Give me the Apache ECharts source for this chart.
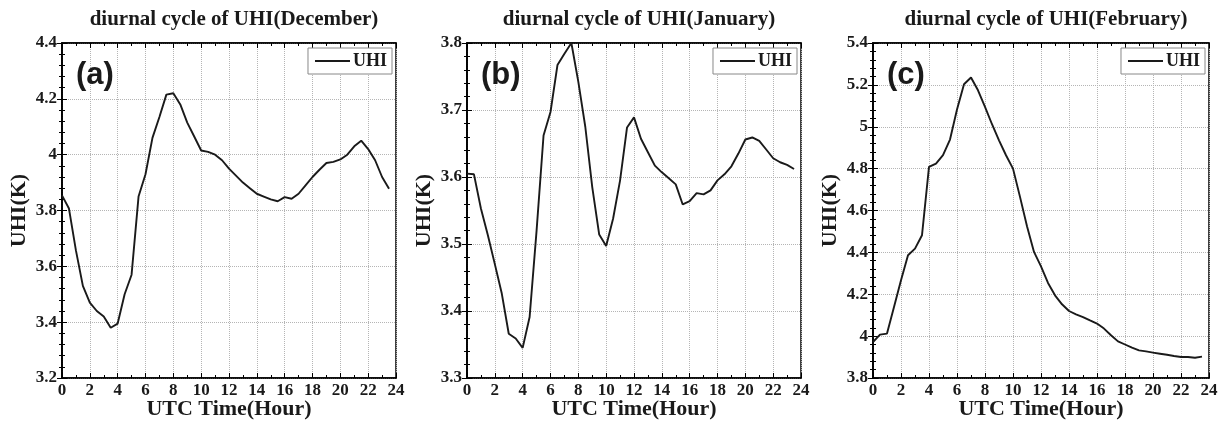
<!DOCTYPE html>
<html><head><meta charset="utf-8">
<script src="https://cdn.jsdelivr.net/npm/echarts@6/dist/echarts.min.js"></script>
<style>html,body{margin:0;padding:0;background:#fff}#c{width:1219px;height:425px}</style>
</head><body><div id="c"></div>
<script>
const hours = [0,0.5,1,1.5,2,2.5,3,3.5,4,4.5,5,5.5,6,6.5,7,7.5,8,8.5,9,9.5,10,10.5,11,11.5,12,12.5,13,13.5,14,14.5,15,15.5,16,16.5,17,17.5,18,18.5,19,19.5,20,20.5,21,21.5,22,22.5,23,23.5];
const uhiDec = [3.854,3.807,3.657,3.53,3.47,3.44,3.42,3.38,3.395,3.50,3.57,3.85,3.93,4.06,4.135,4.215,4.22,4.18,4.115,4.065,4.015,4.01,4.0,3.98,3.95,3.925,3.90,3.88,3.86,3.85,3.84,3.833,3.848,3.842,3.86,3.89,3.92,3.946,3.97,3.974,3.983,4.0,4.03,4.05,4.02,3.98,3.92,3.878];
const uhiJan = [3.605,3.604,3.553,3.513,3.47,3.426,3.366,3.359,3.345,3.391,3.52,3.662,3.697,3.767,3.784,3.80,3.742,3.675,3.585,3.514,3.497,3.538,3.595,3.674,3.689,3.657,3.637,3.617,3.607,3.598,3.589,3.559,3.564,3.576,3.574,3.58,3.595,3.604,3.616,3.635,3.656,3.659,3.654,3.641,3.628,3.622,3.618,3.612];
const uhiFeb = [3.972,4.007,4.012,4.139,4.267,4.386,4.418,4.482,4.808,4.824,4.864,4.939,5.082,5.203,5.235,5.174,5.095,5.012,4.935,4.864,4.8,4.665,4.525,4.402,4.333,4.254,4.195,4.152,4.12,4.104,4.091,4.075,4.06,4.036,4.004,3.975,3.96,3.945,3.932,3.927,3.921,3.916,3.911,3.905,3.9,3.9,3.897,3.902];
const titles = ['diurnal cycle of UHI(December)','diurnal cycle of UHI(January)','diurnal cycle of UHI(February)'];
const letters = ['(a)','(b)','(c)'];
const yRanges = [[3.2,4.4,0.2],[3.3,3.8,0.1],[3.8,5.4,0.2]];
const seriesData = [uhiDec, uhiJan, uhiFeb];

const grids = [{left:62,width:334},{left:467,width:334},{left:873,width:336}];
const serif = '"Liberation Serif","Times New Roman",serif';
const chart = echarts.init(document.getElementById('c'));
const option = {animation:false, title:[], grid:[], xAxis:[], yAxis:[], series:[], legend:[]};
grids.forEach((g,i)=>{
  const cx = g.left + g.width/2;
  option.grid.push({left:g.left, top:43, width:g.width, height:335, outerBoundsMode:'none', containLabel:false,
    show:true, borderColor:'#000', borderWidth:1.5, backgroundColor:'#fff'});
  option.title.push({text:titles[i], left:cx, top:4, textAlign:'center', textStyle:{fontFamily:serif, fontWeight:'bold', fontSize:21, color:'#1a1a1a'}});
  option.title.push({text:letters[i], left:g.left+9, top:55, textStyle:{fontFamily:'"Liberation Sans",Arial,sans-serif', fontWeight:'bold', fontSize:31, color:'#1a1a1a'}});
  const [ymin,ymax,yint] = yRanges[i];
  const tickStyle = {show:true, inside:true, length:5, lineStyle:{color:'#000', width:1}};
  const minor = (n)=>({show:true, splitNumber:n, length:3, lineStyle:{color:'#000', width:1}});
  option.xAxis.push({type:'value', gridIndex:i, min:0, max:24, interval:2, position:'bottom',
    name:'UTC Time(Hour)', nameLocation:'middle', nameGap:20, nameMoveOverlap:false,
    nameTextStyle:{fontFamily:serif, fontWeight:'bold', fontSize:22, color:'#1a1a1a'},
    axisLine:{show:true, lineStyle:{color:'#000', width:1.5}}, axisTick:tickStyle, minorTick:minor(2),
    axisLabel:{fontFamily:serif, fontWeight:'bold', fontSize:17, color:'#1a1a1a', margin:4, showMinLabel:true, showMaxLabel:true},
    splitLine:{show:true, lineStyle:{color:'#b5b5b5', type:'dotted', width:1}}});
  option.xAxis.push({type:'value', gridIndex:i, min:0, max:24, interval:2, position:'top',
    axisLine:{show:true, lineStyle:{color:'#000', width:1.5}}, axisTick:tickStyle, minorTick:minor(2),
    axisLabel:{show:false}, splitLine:{show:false}});
  option.yAxis.push({type:'value', gridIndex:i, min:ymin, max:ymax, interval:yint, position:'left',
    name:'UHI(K)', nameLocation:'middle', nameGap:32, nameMoveOverlap:false,
    nameTextStyle:{fontFamily:serif, fontWeight:'bold', fontSize:22, color:'#1a1a1a'},
    axisLine:{show:true, lineStyle:{color:'#000', width:1.5}}, axisTick:tickStyle, minorTick:minor(5),
    axisLabel:{fontFamily:serif, fontWeight:'bold', fontSize:17, color:'#1a1a1a', margin:5,
      formatter:(v)=>String(parseFloat(v.toFixed(2)))},
    splitLine:{show:true, lineStyle:{color:'#b5b5b5', type:'dotted', width:1}}});
  option.yAxis.push({type:'value', gridIndex:i, min:ymin, max:ymax, interval:yint, position:'right',
    axisLine:{show:true, lineStyle:{color:'#000', width:1.5}}, axisTick:tickStyle, minorTick:minor(5),
    axisLabel:{show:false}, splitLine:{show:false}});
  option.series.push({type:'line', name:'UHI', xAxisIndex:2*i, yAxisIndex:2*i, symbol:'none',
    lineStyle:{color:'#1a1a1a', width:1.9}, itemStyle:{color:'#1a1a1a'},
    data: hours.map((h,k)=>[h, seriesData[i][k]])});
  option.legend.push({data:[{name:'UHI', icon:'rect'}], right:1219-(g.left+g.width)+4, top:48,
    itemWidth:35, itemHeight:2, itemGap:4, padding:[4,5,4,7], borderColor:'#888', borderWidth:1,
    backgroundColor:'#fff', selectedMode:false,
    textStyle:{fontFamily:serif, fontWeight:'bold', fontSize:18, color:'#1a1a1a', padding:[0,0,0,-2]}});
});
chart.setOption(option);
</script></body></html>
